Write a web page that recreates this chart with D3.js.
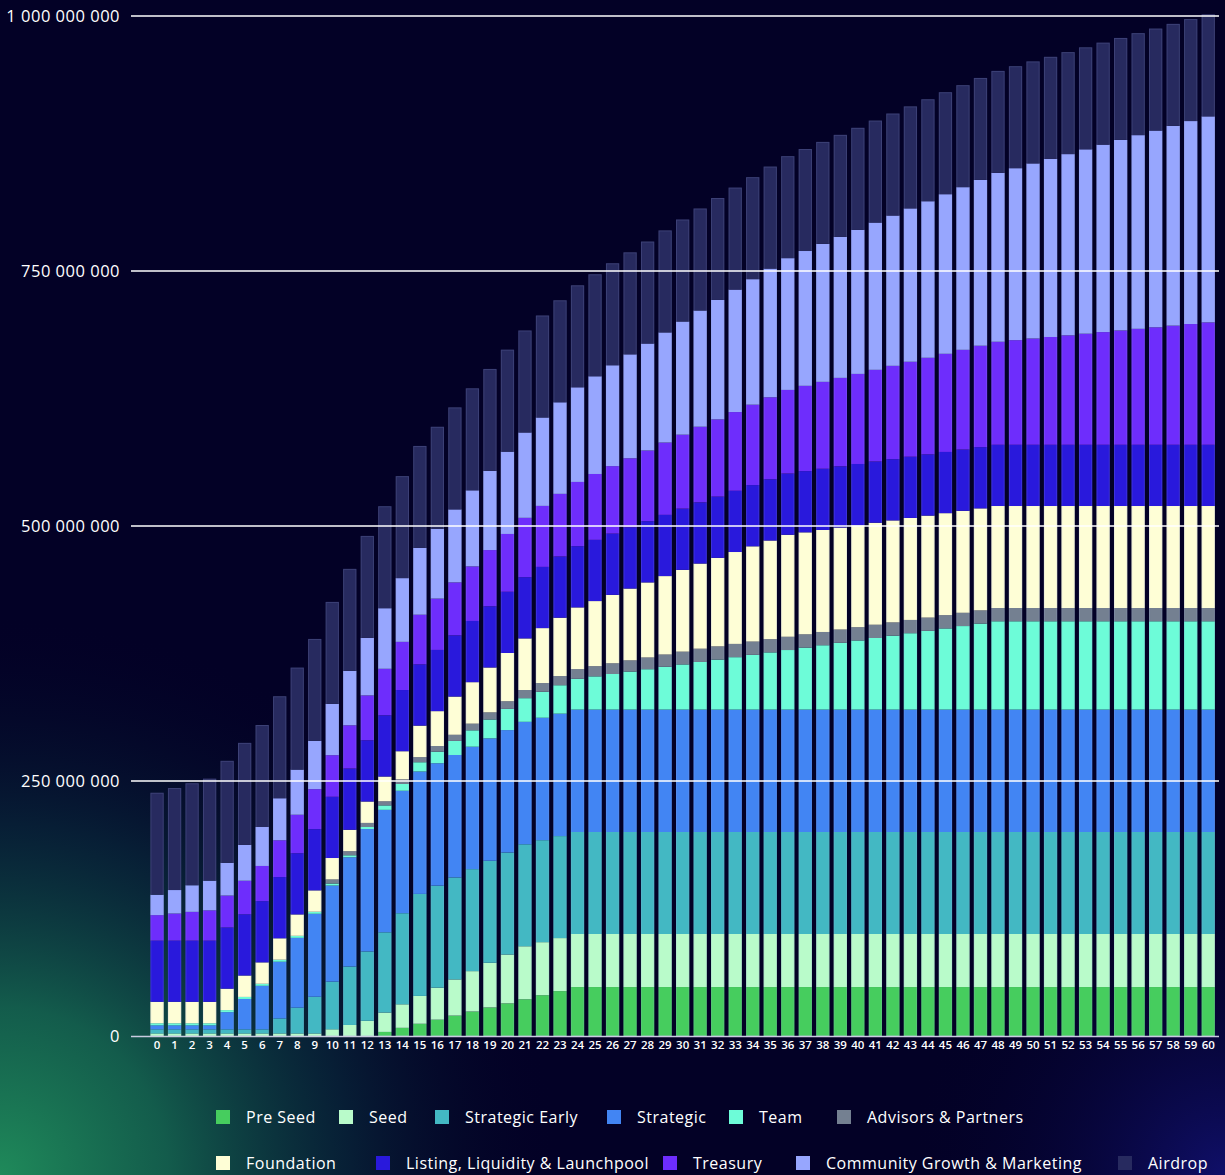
<!DOCTYPE html>
<html>
<head>
<meta charset="utf-8" />
<title>Token unlock schedule</title>
<script src="https://cdn.jsdelivr.net/npm/d3@7"></script>
<style>
  html, body { margin: 0; padding: 0; background: #030126; }
  svg { display: block; font-family: "Open Sans", "Noto Sans", sans-serif; }
</style>
</head>
<body>
<script>
// cumulative unlocked tokens per month, in millions
const months = d3.range(0, 61);

const preSeed = [
  0, 0, 0, 0, 0, 0, 0, 0, 0, 0,
  0, 0, 0, 4, 8, 12, 16, 20, 24, 28,
  32, 36, 40, 44, 48, 48, 48, 48, 48, 48,
  48, 48, 48, 48, 48, 48, 48, 48, 48, 48,
  48, 48, 48, 48, 48, 48, 48, 48, 48, 48,
  48, 48, 48, 48, 48, 48, 48, 48, 48, 48,
  48];
const seed = [
  2.5, 2.5, 2.5, 2.5, 2.5, 2.5, 2.5, 2.5, 2.5, 2.5,
  6.6, 10.8, 14.9, 19, 23.1, 27.3, 31.4, 35.5, 39.6, 43.8,
  47.9, 52, 52, 52, 52, 52, 52, 52, 52, 52,
  52, 52, 52, 52, 52, 52, 52, 52, 52, 52,
  52, 52, 52, 52, 52, 52, 52, 52, 52, 52,
  52, 52, 52, 52, 52, 52, 52, 52, 52, 52,
  52];
const strategicEarly = [
  4, 4, 4, 4, 4, 4, 4, 14.7, 25.3, 36,
  46.7, 57.3, 68, 78.7, 89.3, 100, 100, 100, 100, 100,
  100, 100, 100, 100, 100, 100, 100, 100, 100, 100,
  100, 100, 100, 100, 100, 100, 100, 100, 100, 100,
  100, 100, 100, 100, 100, 100, 100, 100, 100, 100,
  100, 100, 100, 100, 100, 100, 100, 100, 100, 100,
  100];
const strategic = [
  4, 4, 4, 4, 16.9, 29.8, 42.7, 55.6, 68.4, 81.3,
  94.2, 107.1, 120, 120, 120, 120, 120, 120, 120, 120,
  120, 120, 120, 120, 120, 120, 120, 120, 120, 120,
  120, 120, 120, 120, 120, 120, 120, 120, 120, 120,
  120, 120, 120, 120, 120, 120, 120, 120, 120, 120,
  120, 120, 120, 120, 120, 120, 120, 120, 120, 120,
  120];
const team = [
  2, 2, 2, 2, 2, 2, 2, 2, 2, 2,
  2, 2, 2, 4.4, 6.7, 9.1, 11.4, 13.8, 16.1, 18.5,
  20.8, 23.2, 25.5, 27.9, 30.2, 32.6, 34.9, 37.3, 39.6, 42,
  44.3, 46.7, 49, 51.4, 53.7, 56.1, 58.4, 60.8, 63.1, 65.5,
  67.8, 70.2, 72.5, 74.9, 77.2, 79.6, 81.9, 84.3, 86.6, 86.6,
  86.6, 86.6, 86.6, 86.6, 86.6, 86.6, 86.6, 86.6, 86.6, 86.6,
  86.6];
const advisors = [
  0, 0, 0, 0, 0, 0, 0, 0, 0, 0,
  4, 4, 4, 4, 4.5, 5, 5.5, 6, 6.5, 7,
  7.5, 8, 8.5, 9, 9.5, 10, 10.5, 11, 11.5, 12,
  12.5, 13, 13, 13, 13, 13, 13, 13, 13, 13,
  13, 13, 13, 13, 13, 13, 13, 13, 13, 13,
  13, 13, 13, 13, 13, 13, 13, 13, 13, 13,
  13];
const foundation = [
  21, 21, 21, 21, 21, 21, 21, 21, 21, 21,
  21, 21, 21, 24.3, 27.6, 30.9, 34.2, 37.5, 40.7, 44,
  47.3, 50.6, 53.9, 57.2, 60.5, 63.8, 67.1, 70.4, 73.6, 76.9,
  80.2, 83.5, 86.8, 90.1, 93.4, 96.7, 100, 100, 100, 100,
  100, 100, 100, 100, 100, 100, 100, 100, 100, 100,
  100, 100, 100, 100, 100, 100, 100, 100, 100, 100,
  100];
const listing = [
  60, 60, 60, 60, 60, 60, 60, 60, 60, 60,
  60, 60, 60, 60, 60, 60, 60, 60, 60, 60,
  60, 60, 60, 60, 60, 60, 60, 60, 60, 60,
  60, 60, 60, 60, 60, 60, 60, 60, 60, 60,
  60, 60, 60, 60, 60, 60, 60, 60, 60, 60,
  60, 60, 60, 60, 60, 60, 60, 60, 60, 60,
  60];
const treasury = [
  25, 26.6, 28.2, 29.7, 31.3, 32.9, 34.5, 36.1, 37.7, 39.2,
  40.8, 42.4, 44, 45.6, 47.2, 48.7, 50.3, 51.9, 53.5, 55.1,
  56.7, 58.2, 59.8, 61.4, 63, 64.6, 66.2, 67.7, 69.3, 70.9,
  72.5, 74.1, 75.7, 77.2, 78.8, 80.4, 82, 83.6, 85.2, 86.7,
  88.3, 89.9, 91.5, 93.1, 94.7, 96.2, 97.8, 99.4, 101, 102.6,
  104.2, 105.7, 107.3, 108.9, 110.5, 112.1, 113.7, 115.2, 116.8, 118.4,
  120];
const community = [
  20, 23, 26.1, 29.1, 32.1, 35.2, 38.2, 41.2, 44.3, 47.3,
  50.3, 53.4, 56.4, 59.4, 62.5, 65.5, 68.5, 71.6, 74.6, 77.6,
  80.7, 83.7, 86.7, 89.8, 92.8, 95.8, 98.9, 101.9, 104.9, 108,
  111, 114, 117.1, 120.1, 123.1, 126.2, 129.2, 132.2, 135.3, 138.3,
  141.3, 144.4, 147.4, 150.4, 153.5, 156.5, 159.5, 162.6, 165.6, 168.6,
  171.7, 174.7, 177.7, 180.8, 183.8, 186.8, 189.9, 192.9, 195.9, 199,
  202];
const airdrop = [
  100, 100, 100, 100, 100, 100, 100, 100, 100, 100,
  100, 100, 100, 100, 100, 100, 100, 100, 100, 100,
  100, 100, 100, 100, 100, 100, 100, 100, 100, 100,
  100, 100, 100, 100, 100, 100, 100, 100, 100, 100,
  100, 100, 100, 100, 100, 100, 100, 100, 100, 100,
  100, 100, 100, 100, 100, 100, 100, 100, 100, 100,
  100];

const seriesNames = ["Pre Seed", "Seed", "Strategic Early", "Strategic", "Team",
  "Advisors & Partners", "Foundation", "Listing, Liquidity & Launchpool",
  "Treasury", "Community Growth & Marketing", "Airdrop"];
const seriesValues = [preSeed, seed, strategicEarly, strategic, team, advisors,
  foundation, listing, treasury, community, airdrop];
const yTicks = [0, 250, 500, 750, 1000];

const colors = ["#46cd5e", "#b9fbca", "#43b8c3", "#4285f3", "#6dfcd8", "#748091",
  "#fefed6", "#2919dc", "#6e2dfc", "#97a6fe", "#272a5f"];

// legend placement: [row, x]
const legendPos = [[0, 216], [0, 339], [0, 435], [0, 607], [0, 729], [0, 837],
  [1, 216], [1, 376], [1, 663], [1, 796], [1, 1118]];

const W = 1225, H = 1175;
const svg = d3.select("body").append("svg")
  .attr("width", W).attr("height", H);

// background glows
const defs = svg.append("defs");
const g1 = defs.append("radialGradient").attr("id", "glowGreen")
  .attr("cx", 0).attr("cy", H).attr("r", 560)
  .attr("gradientUnits", "userSpaceOnUse");
g1.append("stop").attr("offset", "0%").attr("stop-color", "#1f8a5a").attr("stop-opacity", 1);
g1.append("stop").attr("offset", "30%").attr("stop-color", "#156650").attr("stop-opacity", 0.9);
g1.append("stop").attr("offset", "62%").attr("stop-color", "#0a3340").attr("stop-opacity", 0.6);
g1.append("stop").attr("offset", "100%").attr("stop-color", "#030126").attr("stop-opacity", 0);
const g2 = defs.append("radialGradient").attr("id", "glowBlue")
  .attr("cx", W).attr("cy", H).attr("r", 320)
  .attr("gradientUnits", "userSpaceOnUse");
g2.append("stop").attr("offset", "0%").attr("stop-color", "#13137a").attr("stop-opacity", 0.8);
g2.append("stop").attr("offset", "100%").attr("stop-color", "#030126").attr("stop-opacity", 0);

svg.append("rect").attr("width", W).attr("height", H).attr("fill", "#030126");
svg.append("rect").attr("width", W).attr("height", H).attr("fill", "url(#glowGreen)");
svg.append("rect").attr("width", W).attr("height", H).attr("fill", "url(#glowBlue)");

const x = d3.scaleBand()
  .domain(months)
  .range([148.3, 1217])
  .paddingInner(0.24)
  .paddingOuter(0.12);

const y = d3.scaleLinear()
  .domain([0, 1000])
  .range([1036, 16]);

const rows = months.map((m, i) => {
  const r = { month: m };
  seriesNames.forEach((s, k) => { r[s] = seriesValues[k][i]; });
  return r;
});

const stacked = d3.stack().keys(seriesNames)(rows);
const tops = stacked[stacked.length - 1];

// bars
svg.append("g")
  .selectAll("g")
  .data(stacked)
  .join("g")
  .attr("fill", (d, i) => colors[i])
  .selectAll("rect")
  .data(d => d)
  .join("rect")
  .attr("x", d => x(d.data.month))
  .attr("y", d => y(d[1]))
  .attr("width", x.bandwidth())
  .attr("height", d => Math.max(0, y(d[0]) - y(d[1])));

// faint outline of each bar
svg.append("g")
  .selectAll("rect")
  .data(rows)
  .join("rect")
  .attr("x", d => x(d.month) + 0.5)
  .attr("y", (d, i) => y(tops[i][1]) + 0.5)
  .attr("width", x.bandwidth() - 1)
  .attr("height", (d, i) => y(0) - y(tops[i][1]) - 1)
  .attr("fill", "none")
  .attr("stroke", "rgba(160,170,230,0.18)")
  .attr("stroke-width", 1);

// grid lines on top
const fmt = d3.formatLocale({ decimal: ".", thousands: " ", grouping: [3], currency: ["", ""] }).format(",");
svg.append("g")
  .selectAll("line")
  .data(yTicks.filter(t => t > 0))
  .join("line")
  .attr("x1", 131).attr("x2", 1219)
  .attr("y1", d => y(d)).attr("y2", d => y(d))
  .attr("stroke", "#ffffff")
  .attr("stroke-width", 1.4);

svg.append("line")
  .attr("x1", 131).attr("x2", 1219)
  .attr("y1", y(0) + 0.5).attr("y2", y(0) + 0.5)
  .attr("stroke", "#c9cbe0")
  .attr("stroke-width", 1.5);

svg.append("g")
  .selectAll("text")
  .data(yTicks)
  .join("text")
  .attr("x", 120)
  .attr("y", d => y(d))
  .attr("dy", "0.35em")
  .attr("text-anchor", "end")
  .attr("fill", "#ffffff")
  .style("font-size", "16.5px")
  .style("letter-spacing", "0.5px")
  .text(d => fmt(d * 1e6));

// x labels
svg.append("g")
  .selectAll("text")
  .data(months)
  .join("text")
  .attr("x", d => x(d) + x.bandwidth() / 2)
  .attr("y", 1049)
  .attr("text-anchor", "middle")
  .attr("fill", "#ffffff")
  .style("font-size", "11.5px")
  .style("font-weight", 600)
  .text(d => d);

// legend
const legendRowY = [1117, 1163];
const leg = svg.append("g")
  .selectAll("g")
  .data(seriesNames)
  .join("g")
  .attr("transform", (d, i) => `translate(${legendPos[i][1]},${legendRowY[legendPos[i][0]]})`);
leg.append("rect")
  .attr("x", 0).attr("y", -7)
  .attr("width", 14).attr("height", 14)
  .attr("fill", (d, i) => colors[i]);
leg.append("text")
  .attr("x", 30)
  .attr("dy", "0.35em")
  .attr("fill", "#ffffff")
  .style("font-size", "16px")
  .style("letter-spacing", "0.5px")
  .text(d => d);
</script>
</body>
</html>
